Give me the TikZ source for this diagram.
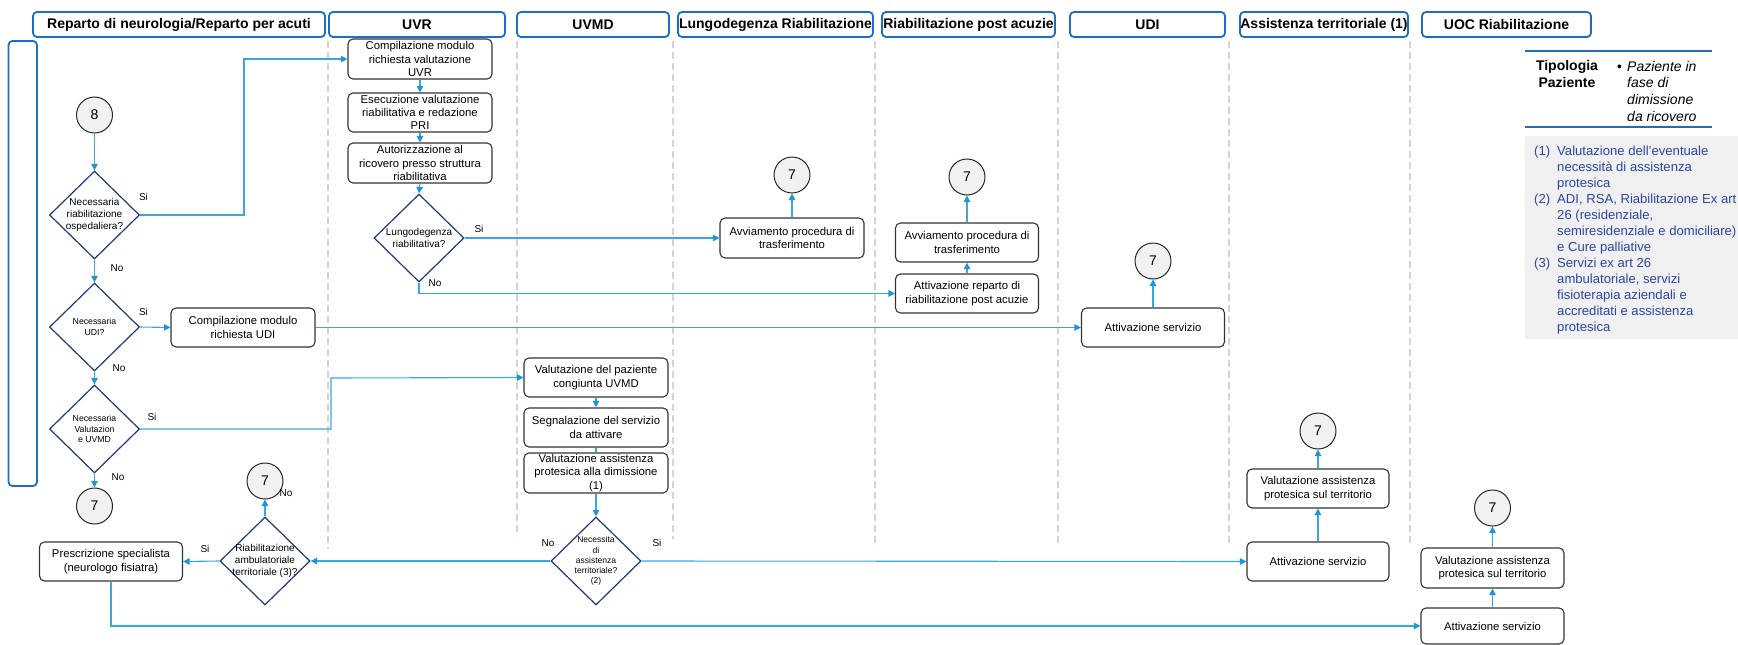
\documentclass[tikz,border=0pt]{standalone}
\usepackage{fontspec}
\setmainfont{Liberation Sans}
\usetikzlibrary{arrows.meta,shapes.geometric}

\definecolor{laneblue}{HTML}{1C6FBF}
\definecolor{flowblue}{HTML}{3AA6E2}
\definecolor{tipblue}{HTML}{1F95DA}
\definecolor{decnavy}{HTML}{1F3A78}
\definecolor{divgray}{HTML}{D4D4D4}
\definecolor{notefill}{HTML}{F0F0F0}
\definecolor{notetext}{HTML}{2A47A8}
\definecolor{endfill}{HTML}{F1F1F1}

\tikzset{
  lanehead/.style={draw=laneblue, line width=1.8pt, rounded corners=4pt, fill=white,
    inner sep=0pt, minimum height=25pt, font=\fontsize{14}{16}\selectfont\bfseries},
  divider/.style={draw=divgray, line width=2pt, dash pattern=on 7pt off 4pt},
  task/.style={draw=black!80, line width=1.1pt, rounded corners=5pt, fill=white,
    align=center, inner sep=0pt, font=\fontsize{11.3}{13.3}\selectfont},
  decision/.style={diamond, draw=decnavy, line width=1.2pt, fill=white,
    inner sep=0pt, minimum width=90pt, minimum height=88pt},
  dtext/.style={align=center, inner sep=0pt, font=\fontsize{10}{12.4}\selectfont},
  dsmall/.style={align=center, inner sep=0pt, font=\fontsize{8.7}{10.3}\selectfont},
  endpoint/.style={circle, draw=black!85, line width=1pt, fill=endfill,
    minimum size=36pt, inner sep=0pt, font=\fontsize{14}{16}\selectfont},
  flow/.style={draw=flowblue, line width=1.1pt, -{Triangle[length=6.5pt,width=6.5pt,color=tipblue]}},
  link/.style={draw=flowblue, line width=1.1pt},
  answer/.style={inner sep=0pt, font=\fontsize{10}{12}\selectfont},
  note/.style={inner sep=0pt, anchor=base west, text=notetext, font=\fontsize{13.1}{16}\selectfont},
}

\begin{document}
\begin{tikzpicture}[x=1pt, y=-1pt]
\useasboundingbox (0,0) rectangle (1738,645);

% lane dividers
\foreach \x/\y in {328/549, 517/536, 673/539, 875/547, 1058/543, 1229/543, 1410/545}
  \draw[divider] (\x,41) -- (\x,\y);

% side bar
\node[draw=laneblue, line width=1.8pt, rounded corners=4pt, minimum width=28.5pt,
      minimum height=445pt, inner sep=0pt] (sidebar) at (22.75,263.5) {};

% lane headers
\node[lanehead, minimum width=292pt] (h1) at (179,24.5) {Reparto di neurologia/Reparto per acuti};
\node[lanehead, minimum width=176pt] (h2) at (417,24.5) {UVR};
\node[lanehead, minimum width=152pt] (h3) at (593,24.5) {UVMD};
\node[lanehead, minimum width=195pt] (h4) at (775.5,24.5) {Lungodegenza Riabilitazione};
\node[lanehead, minimum width=173pt] (h5) at (968.5,24.5) {Riabilitazione post acuzie};
\node[lanehead, minimum width=155pt] (h6) at (1147.5,24.5) {UDI};
\node[lanehead, minimum width=168pt] (h7) at (1324,24.5) {Assistenza territoriale (1)};
\node[lanehead, minimum width=169pt] (h8) at (1506.5,24.5) {UOC Riabilitazione};

% end points
\node[endpoint] (c8) at (94.5,115) {8};
\node[endpoint] (c7a) at (94.5,506) {7};
\node[endpoint] (c7r) at (265,481) {7};
\node[endpoint] (c7lungo) at (792,175) {7};
\node[endpoint] (c7post) at (967,177) {7};
\node[endpoint] (c7udi) at (1153,261) {7};
\node[endpoint] (c7as) at (1318,431) {7};
\node[endpoint] (c7uoc) at (1492.5,508) {7};

% decisions
\node[decision, label={[dtext]center:{Necessaria\\riabilitazione\\ospedaliera?}}] (d1) at (94.5,215) {};
\node[decision, label={[dsmall]center:{Necessaria\\UDI?}}] (d2) at (94.5,327) {};
\node[decision, label={[dsmall]center:{Necessaria\\Valutazion\\e UVMD}}] (d3) at (94.5,429) {};
\node[decision, label={[dtext]center:{Lungodegenza\\riabilitativa?}}] (dl) at (419,238) {};
\node[decision, label={[dsmall, font=\fontsize{8.5}{10.2}\selectfont]center:{Necessita\\di\\assistenza\\territoriale?\\(2)}}] (dn) at (596,561) {};
\node[decision, label={[dtext]center:{Riabilitazione\\ambulatoriale\\territoriale (3)?}}] (dr) at (265,561) {};

% tasks
\node[task, minimum width=144pt, minimum height=40pt] (uvr1) at (420,59) {Compilazione modulo\\richiesta valutazione\\UVR};
\node[task, minimum width=144pt, minimum height=39pt] (uvr2) at (420,112.5) {Esecuzione valutazione\\riabilitativa e redazione\\PRI};
\node[task, minimum width=144pt, minimum height=40pt] (uvr3) at (420,163) {Autorizzazione al\\ricovero presso struttura\\riabilitativa};
\node[task, minimum width=144pt, minimum height=40pt] (lungoAvv) at (792,238) {Avviamento procedura di\\trasferimento};
\node[task, minimum width=143pt, minimum height=39pt] (postAvv) at (967,242.5) {Avviamento procedura di\\trasferimento};
\node[task, minimum width=143pt, minimum height=39pt] (postAtt) at (967,293.5) {Attivazione reparto di\\riabilitazione post acuzie};
\node[task, minimum width=144pt, minimum height=39pt] (udiComp) at (243,327.5) {Compilazione modulo\\richiesta UDI};
\node[task, minimum width=143pt, minimum height=39pt] (udiAtt) at (1153,327.5) {Attivazione servizio};
\node[task, minimum width=144pt, minimum height=39pt] (uvmd1) at (596,377.5) {Valutazione del paziente\\congiunta UVMD};
\node[task, minimum width=144pt, minimum height=39pt] (uvmd2) at (596,427.5) {Segnalazione del servizio\\da attivare};
\node[task, minimum width=144pt, minimum height=40pt] (uvmd3) at (596,473) {Valutazione assistenza\\protesica alla dimissione\\(1)};
\node[task, minimum width=143pt, minimum height=39pt] (presc) at (111,561.5) {Prescrizione specialista\\(neurologo fisiatra)};
\node[task, minimum width=142pt, minimum height=39pt] (asVal) at (1318,488.5) {Valutazione assistenza\\protesica sul territorio};
\node[task, minimum width=142pt, minimum height=39pt] (asAtt) at (1318,561.5) {Attivazione servizio};
\node[task, minimum width=143pt, minimum height=40pt] (uocVal) at (1492.5,568) {Valutazione assistenza\\protesica sul territorio};
\node[task, minimum width=143pt, minimum height=36pt] (uocAtt) at (1492.5,626) {Attivazione servizio};

% answer labels
\node[answer] (a1) at (143.5,197) {Si};
\node[answer] (a2) at (117,268) {No};
\node[answer] (a3) at (143.5,312) {Si};
\node[answer] (a4) at (119,368) {No};
\node[answer] (a5) at (152,417) {Si};
\node[answer] (a6) at (118,477) {No};
\node[answer] (a7) at (479,229) {Si};
\node[answer] (a8) at (435,283) {No};
\node[answer] (a9) at (548,543) {No};
\node[answer] (a10) at (657,543) {Si};
\node[answer] (a11) at (205,549) {Si};
\node[answer] (a12) at (286,493) {No};

% bend points
\coordinate (k1) at (244,59);
\coordinate (k2) at (331,378);

% connectors
\draw[flow] (c8.south) -- (d1.north);
\draw[flow] (d1.east) -| (k1) -- (uvr1.west);
\draw[flow] (uvr1.south) -- (uvr2.north);
\draw[flow] (uvr2.south) -- (uvr3.north);
\draw[flow] (uvr3.south) -- (dl.north);
\draw[flow] (dl.east) -- (lungoAvv.west);
\draw[flow] (dl.south) |- (postAtt.west);
\draw[flow] (lungoAvv.north) -- (c7lungo.south);
\draw[flow] (postAtt.north) -- (postAvv.south);
\draw[flow] (postAvv.north) -- (c7post.south);
\draw[flow] (d1.south) -- (d2.north);
\draw[flow] (d2.east) -- (udiComp.west);
\draw[flow] (udiComp.east) -- (udiAtt.west);
\draw[flow] (udiAtt.north) -- (c7udi.south);
\draw[flow] (d2.south) -- (d3.north);
\draw[flow] (d3.south) -- (c7a.north);
\draw[flow] (d3.east) -| (k2) -- (uvmd1.west);
\draw[flow] (uvmd1.south) -- (uvmd2.north);
\draw[link] (uvmd2.south) -- (uvmd3.north);
\draw[flow] (uvmd3.south) -- (dn.north);
\draw[flow] (dn.west) -- (dr.east);
\draw[flow] (dn.east) -- (asAtt.west);
\draw[flow] (dr.north) -- (c7r.south);
\draw[flow] (dr.west) -- (presc.east);
\draw[flow] (presc.south) |- (uocAtt.west);
\draw[flow] (asAtt.north) -- (asVal.south);
\draw[flow] (asVal.north) -- (c7as.south);
\draw[flow] (uocAtt.north) -- (uocVal.south);
\draw[flow] (uocVal.north) -- (c7uoc.south);

% patient type
\draw[laneblue, line width=1.5pt] (1525,51) -- (1712,51);
\draw[laneblue, line width=1.5pt] (1525,127) -- (1712,127);
\node[align=center, inner sep=0pt, font=\fontsize{14}{16.5}\selectfont\bfseries] (tipo) at (1567,74) {Tipologia\\Paziente};
\node[anchor=base west, inner sep=0pt, font=\fontsize{14}{16}\selectfont] (bul) at (1617,71) {•};
\foreach \t [count=\i] in {Paziente in, fase di, dimissione, da ricovero}
  \node[anchor=base west, inner sep=0pt, font=\fontsize{14}{16}\selectfont\itshape] (pz\i) at (1627,{71+16.7*(\i-1)}) {\t};

% notes
\fill[notefill] (1525,136) rectangle (1738,339);
\node[note] (n1) at (1534,155) {(1)};
\node[note] (n2) at (1534,203) {(2)};
\node[note] (n3) at (1534,267) {(3)};
\foreach \t [count=\i] in {{Valutazione dell’eventuale},{necessità di assistenza},{protesica},{ADI, RSA, Riabilitazione Ex art},{26 (residenziale,},{semiresidenziale e domiciliare)},{e Cure palliative},{Servizi ex art 26},{ambulatoriale, servizi},{fisioterapia aziendali e},{accreditati e assistenza},{protesica}}
  \node[note] (nl\i) at (1557,{155+16*(\i-1)}) {\t};
\end{tikzpicture}
\end{document}
